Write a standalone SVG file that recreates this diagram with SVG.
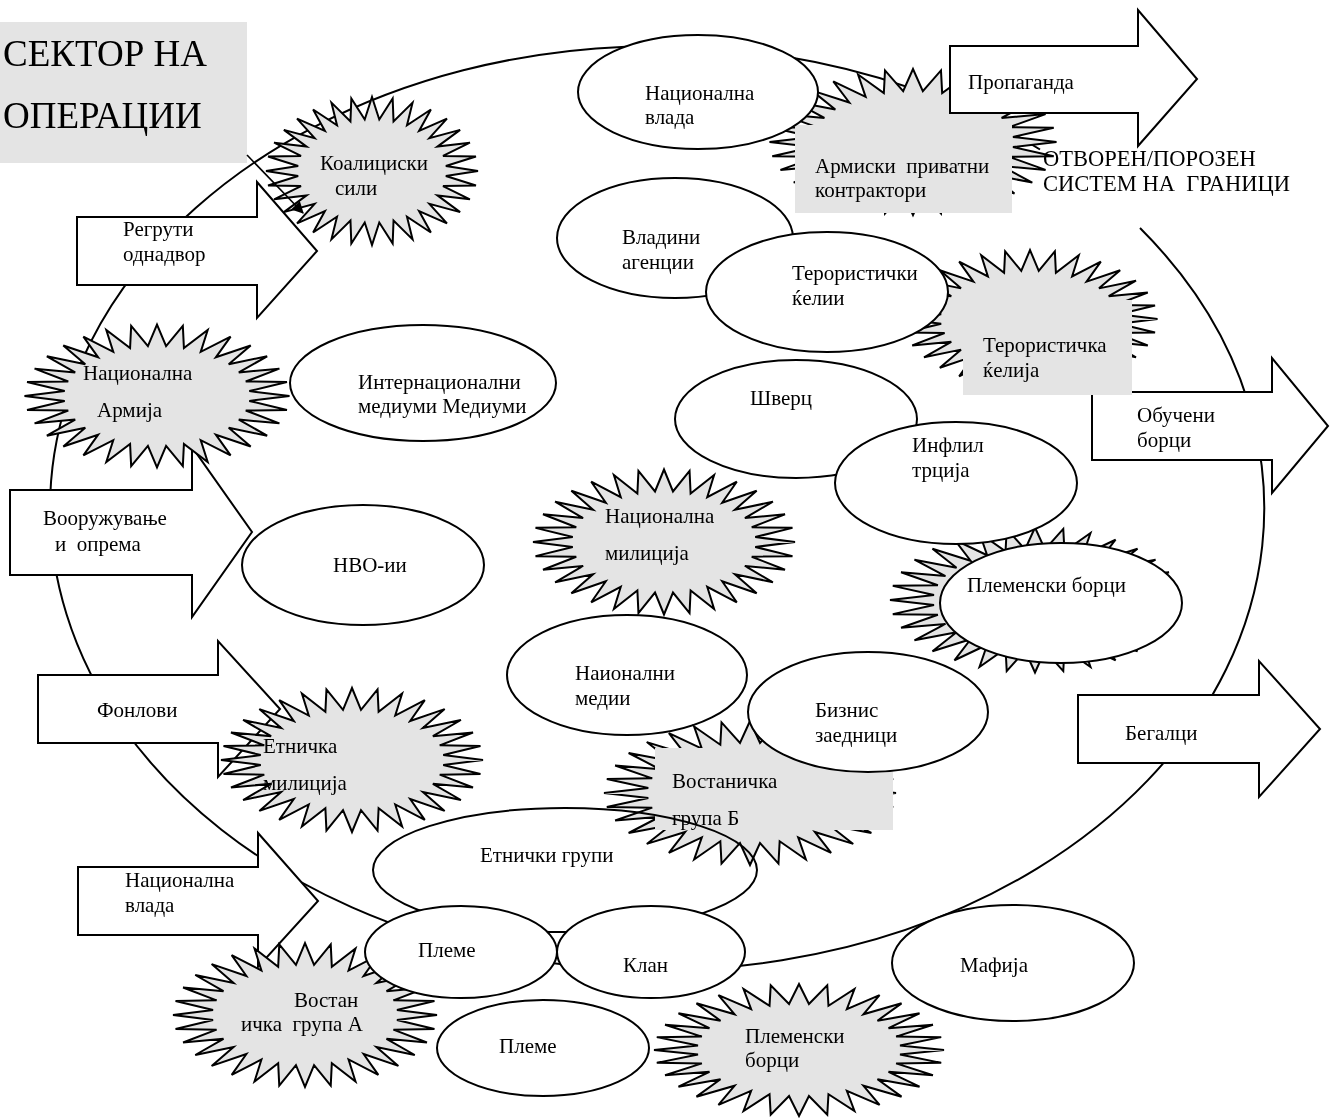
<svg xmlns="http://www.w3.org/2000/svg" width="1330" height="1120" viewBox="0 0 1330 1120">
<style>
  text { font-family: "Liberation Serif", "Times New Roman", serif; font-size: 21px; fill: #000; white-space: pre; }
  .title { font-size: 37px; }
  .big { font-size: 22.5px; }
  .shape { fill: #fff; stroke: #000; stroke-width: 2; }
  .star { fill: #e4e4e4; stroke: #000; stroke-width: 2; stroke-linejoin: miter; }
  .shade { fill: #e4e4e4; }
  .line { fill: none; stroke: #000; stroke-width: 2; }
  .conn { fill: none; stroke: #000; stroke-width: 1.6; }
</style>
<defs>
  <polygon id="burst" vector-effect="non-scaling-stroke" points="50,0 34.83,3.43 49.04,9.75 33.49,10.16 46.19,19.13 30.87,16.5 41.57,27.78 27.06,22.2 35.36,35.36 22.2,27.06 27.78,41.57 16.5,30.87 19.13,46.19 10.16,33.49 9.75,49.04 3.43,34.83 0,50 -3.43,34.83 -9.75,49.04 -10.16,33.49 -19.13,46.19 -16.5,30.87 -27.78,41.57 -22.2,27.06 -35.36,35.36 -27.06,22.2 -41.57,27.78 -30.87,16.5 -46.19,19.13 -33.49,10.16 -49.04,9.75 -34.83,3.43 -50,0 -34.83,-3.43 -49.04,-9.75 -33.49,-10.16 -46.19,-19.13 -30.87,-16.5 -41.57,-27.78 -27.06,-22.2 -35.36,-35.36 -22.2,-27.06 -27.78,-41.57 -16.5,-30.87 -19.13,-46.19 -10.16,-33.49 -9.75,-49.04 -3.43,-34.83 0,-50 3.43,-34.83 9.75,-49.04 10.16,-33.49 19.13,-46.19 16.5,-30.87 27.78,-41.57 22.2,-27.06 35.36,-35.36 27.06,-22.2 41.57,-27.78 30.87,-16.5 46.19,-19.13 33.49,-10.16 49.04,-9.75 34.83,-3.43"/>
  <marker id="ah" viewBox="0 0 10 10" refX="9" refY="5" markerWidth="14" markerHeight="12" markerUnits="userSpaceOnUse" orient="auto">
    <path d="M0,0 L10,5 L0,10 z" fill="#000"/>
  </marker>
</defs>
<rect x="0" y="0" width="1330" height="1120" fill="#fff"/>

<g id="boundary">
  <path class="line" d="M 1140 228 A 607 462 0 1 1 1040 149.5"/>
</g>

<g id="title">
  <rect class="shade" x="0" y="22" width="247" height="141"/>
  <text class="title" x="3" y="66">СЕКТОР НА</text>
  <text class="title" x="3" y="128">ОПЕРАЦИИ</text>
</g>

<g id="arrow-regruti">
  <polygon class="shape" points="77,217 257,217 257,182 317,251 257,318 257,285 77,285"/>
  <text x="123" y="236">Регрути</text>
  <text x="123" y="261">однадвор</text>
</g>
<g id="arrow-vooruzuvanje">
  <polygon class="shape" points="10,490 192,490 192,447 252,532 192,617 192,575 10,575"/>
  <text x="43" y="525">Вооружување</text>
  <text x="55" y="551">и  опрема</text>
</g>
<g id="arrow-fondovi">
  <polygon class="shape" points="38,675 218,675 218,641 280,709 218,777 218,743 38,743"/>
  <text x="97" y="717">Фонлови</text>
</g>
<g id="arrow-nac-vlada">
  <polygon class="shape" points="78,867 258,867 258,833 318,901 258,967 258,935 78,935"/>
  <text x="125" y="887">Национална</text>
  <text x="125" y="912">влада</text>
</g>
<g id="arrow-obuceni">
  <polygon class="shape" points="1092,392 1272,392 1272,358 1328,426 1272,493 1272,460 1092,460"/>
  <text x="1137" y="422">Обучени</text>
  <text x="1137" y="447">борци</text>
</g>
<g id="arrow-begalci">
  <polygon class="shape" points="1078,695 1259,695 1259,661 1320,729 1259,797 1259,763 1078,763"/>
  <text x="1125" y="740">Бегалци</text>
</g>

<g id="koaliciski-sili">
  <use class="star" href="#burst" transform="translate(372,171) scale(2.12,1.48)"/>
  <text x="320" y="170">Коалициски</text>
  <text x="335" y="195">сили</text>
</g>
<g id="nac-armija">
  <use class="star" href="#burst" transform="translate(157,396) scale(2.65,1.43)"/>
  <text x="83" y="380">Национална</text>
  <text x="97" y="417">Армија</text>
</g>
<g id="etnicka-milicija">
  <use class="star" href="#burst" transform="translate(352,760) scale(2.62,1.44)"/>
  <text x="263" y="753">Етничка</text>
  <text x="263" y="790">милиција</text>
</g>
<g id="nac-milicija">
  <use class="star" href="#burst" transform="translate(664,542) scale(2.62,1.45)"/>
  <text x="605" y="523">Национална</text>
  <text x="605" y="560">милиција</text>
</g>
<g id="teroristicka-kelija">
  <use class="star" href="#burst" transform="translate(1030,319) scale(2.55,1.38)"/>
  <rect class="shade" x="963" y="300" width="169" height="95"/>
  <text x="983" y="352">Терористичка</text>
  <text x="983" y="377">ќелија</text>
</g>
<g id="plemenski-borci-1">
  <use class="star" href="#burst" transform="translate(1035,600) scale(2.9,1.45)"/>
  <ellipse class="shape" cx="1061" cy="603" rx="121" ry="60"/>
  <text x="967" y="592">Племенски борци</text>
</g>
<g id="vostanicka-a">
  <use class="star" href="#burst" transform="translate(305,1015) scale(2.64,1.44)"/>
  <text x="294" y="1007">Востан</text>
  <text x="241" y="1031">ичка  група А</text>
</g>
<g id="plemenski-borci-2">
  <use class="star" href="#burst" transform="translate(799,1050) scale(2.9,1.32)"/>
  <text x="745" y="1043">Племенски</text>
  <text x="745" y="1067">борци</text>
</g>
<g id="armiski-kontraktori">
  <use class="star" href="#burst" transform="translate(913,142) scale(2.87,1.46)"/>
  <rect class="shade" x="795" y="125" width="217" height="88"/>
  <text x="815" y="173">Армиски  приватни</text>
  <text x="815" y="197">контрактори</text>
</g>

<g id="nac-vlada">
  <ellipse class="shape" cx="698" cy="92" rx="120" ry="57"/>
  <text x="645" y="100">Национална</text>
  <text x="645" y="124">влада</text>
</g>
<g id="vladini-agencii">
  <ellipse class="shape" cx="675" cy="238" rx="118" ry="60"/>
  <text x="622" y="244">Владини</text>
  <text x="622" y="269">агенции</text>
</g>
<g id="teroristicki-kelii">
  <ellipse class="shape" cx="827" cy="292" rx="121" ry="60"/>
  <text x="792" y="280">Терористички</text>
  <text x="792" y="305">ќелии</text>
</g>
<g id="internacionalni-mediumi">
  <ellipse class="shape" cx="423" cy="383" rx="133" ry="58"/>
  <text x="358" y="389">Интернационални</text>
  <text x="358" y="413">медиуми Медиуми</text>
</g>
<g id="nvo">
  <ellipse class="shape" cx="363" cy="565" rx="121" ry="60"/>
  <text x="333" y="572">НВО-ии</text>
</g>
<g id="sverc">
  <ellipse class="shape" cx="796" cy="419" rx="121" ry="59"/>
  <text x="750" y="405">Шверц</text>
</g>
<g id="infiltracija">
  <ellipse class="shape" cx="956" cy="483" rx="121" ry="61"/>
  <text x="912" y="452">Инфлил</text>
  <text x="912" y="477">трција</text>
</g>
<g id="nac-mediumi">
  <ellipse class="shape" cx="627" cy="675" rx="120" ry="60"/>
  <text x="575" y="680">Наионални</text>
  <text x="575" y="705">медии</text>
</g>
<g id="etnicki-grupi">
  <ellipse class="shape" cx="565" cy="870" rx="192" ry="62"/>
  <text x="480" y="862">Етнички групи</text>
</g>
<g id="vostanicka-b" style="mix-blend-mode:multiply">
  <use class="star" href="#burst" transform="translate(750,793) scale(2.92,1.44)"/>
  <rect class="shade" x="655" y="748" width="238" height="82"/>
  <text x="672" y="788">Востаничка</text>
  <text x="672" y="825">група Б</text>
</g>
<g id="biznis-zaednici">
  <ellipse class="shape" cx="868" cy="712" rx="120" ry="60"/>
  <text x="815" y="717">Бизнис</text>
  <text x="815" y="742">заедници</text>
</g>
<g id="pleme-1">
  <ellipse class="shape" cx="461" cy="952" rx="96" ry="46"/>
  <text x="418" y="957">Племе</text>
</g>
<g id="klan">
  <ellipse class="shape" cx="651" cy="952" rx="94" ry="46"/>
  <text x="623" y="972">Клан</text>
</g>
<g id="pleme-2">
  <ellipse class="shape" cx="543" cy="1048" rx="106" ry="48"/>
  <text x="499" y="1053">Племе</text>
</g>
<g id="mafija">
  <ellipse class="shape" cx="1013" cy="963" rx="121" ry="58"/>
  <text x="960" y="972">Мафија</text>
</g>

<g id="arrow-propaganda">
  <polygon class="shape" points="950,46 1138,46 1138,10 1197,79 1138,146 1138,113 950,113"/>
  <text x="968" y="89">Пропаганда</text>
</g>

<g id="border-label">
  <text class="big" x="1043" y="166">ОТВОРЕН/ПОРОЗЕН</text>
  <text class="big" x="1043" y="191">СИСТЕМ НА  ГРАНИЦИ</text>
</g>

<g id="connectors">
  <line class="conn" x1="247" y1="155" x2="303" y2="213" marker-end="url(#ah)"/>
</g>
</svg>
